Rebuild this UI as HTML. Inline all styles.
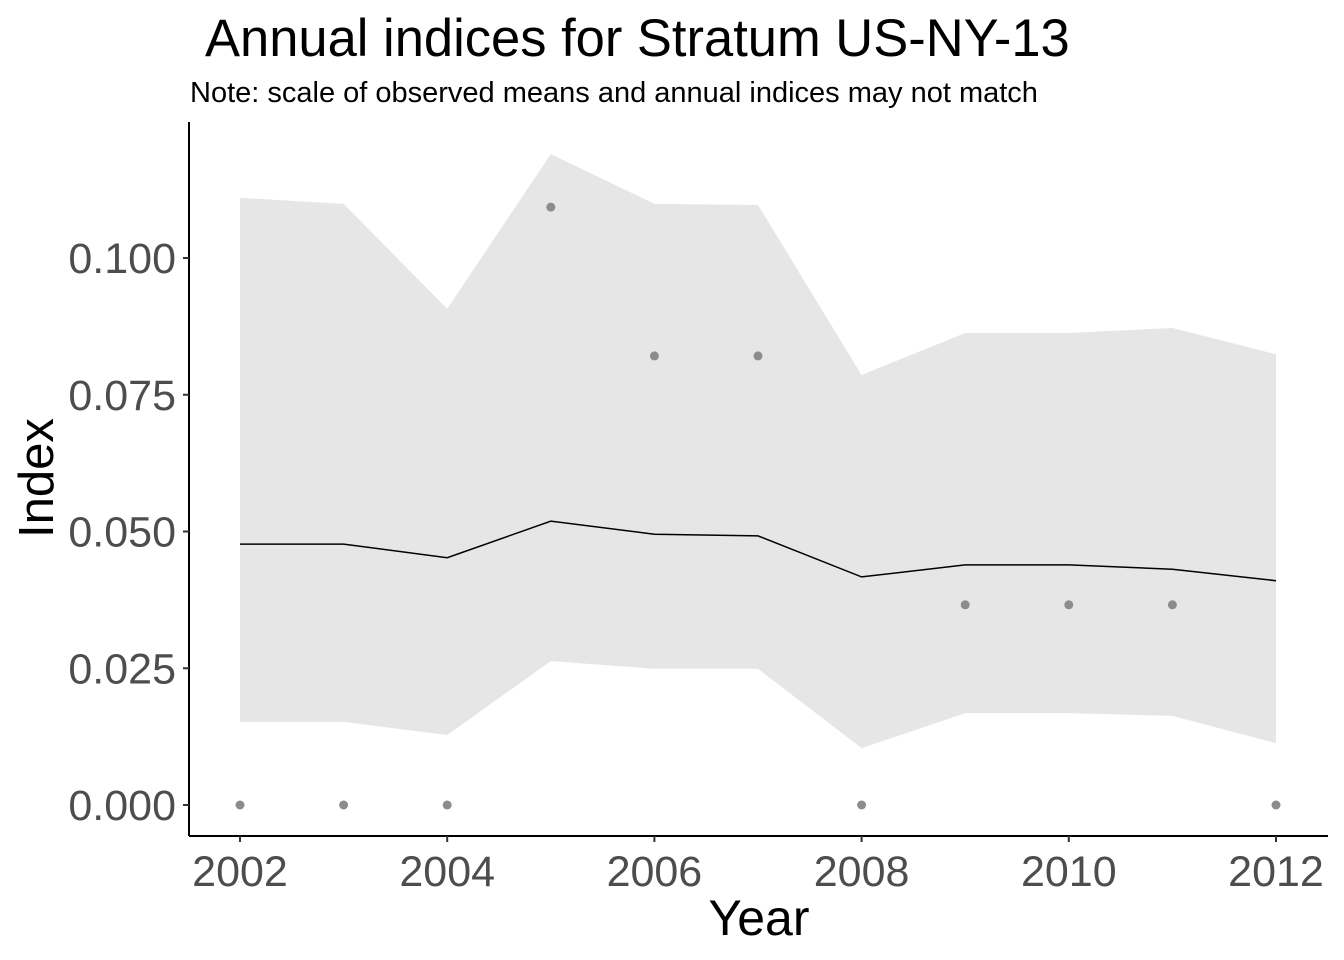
<!DOCTYPE html>
<html><head><meta charset="utf-8"><style>
html,body{margin:0;padding:0;background:#fff;}
svg{display:block;font-family:"Liberation Sans",Arial,sans-serif;}
</style></head><body>
<svg id="chart" width="1344" height="960" viewBox="0 0 1344 960">
<text x="205" y="56" font-size="52.5" fill="#000">Annual indices for Stratum US-NY-13</text>
<text x="190" y="102" font-size="29" fill="#000">Note: scale of observed means and annual indices may not match</text>
<g id="plot"></g>
<line x1="189" y1="122" x2="189" y2="836" stroke="#000" stroke-width="2"/>
<line x1="189" y1="836" x2="1328" y2="836" stroke="#000" stroke-width="2"/>
<g id="yticks"></g>
<g id="xticks"></g>
<text x="759" y="935" font-size="50" text-anchor="middle" fill="#000">Year</text>
<text transform="translate(53,478) rotate(-90)" font-size="49" text-anchor="middle" fill="#000">Index</text>
</svg>
<script>
const years = [2002,2003,2004,2005,2006,2007,2008,2009,2010,2011,2012];
const upper = [0.111,0.1099,0.0907,0.119,0.1099,0.1097,0.0786,0.0863,0.0863,0.0872,0.0824];
const lower = [0.0152,0.0152,0.0128,0.0263,0.0249,0.0249,0.0104,0.0168,0.0168,0.0163,0.0113];
const index = [0.0477,0.0477,0.0452,0.0519,0.0495,0.0492,0.0417,0.0439,0.0439,0.0431,0.0410];
const observed = [0,0,0,0.1093,0.0821,0.0821,0,0.0366,0.0366,0.0366,0];
const yTicks = [0,0.025,0.05,0.075,0.1];
const yTickLabels = ["0.000","0.025","0.050","0.075","0.100"];
const xTicks = [2002,2004,2006,2008,2010,2012];

const NS="http://www.w3.org/2000/svg";
const xs = v => 240 + (v-2002)*(1276-240)/10;
const ys = v => 805 - v*(805-258)/0.1;
function mk(tag, attrs, parent){const e=document.createElementNS(NS,tag);for(const k in attrs)e.setAttribute(k,attrs[k]);parent.appendChild(e);return e;}
const plot=document.getElementById('plot');
let d = years.map((y,i)=>(i?'L':'M')+xs(y)+','+ys(upper[i])).join('');
for(let i=years.length-1;i>=0;i--) d+='L'+xs(years[i])+','+ys(lower[i]);
const band=mk('path',{d:d+'Z',fill:'#e6e6e6'},plot);


const line=mk('path',{d:years.map((y,i)=>(i?'L':'M')+xs(y)+','+ys(index[i])).join(''),fill:'none',stroke:'#000','stroke-width':1.5},plot);


years.forEach((y,i)=>{
  const c=mk('circle',{cx:xs(y),cy:ys(observed[i]),r:4.5,fill:'#8c8c8c'},plot);
  
  
});
const yg=document.getElementById('yticks');
yTicks.forEach((v,i)=>{
  const t=mk('line',{x1:183,x2:189,y1:ys(v),y2:ys(v),stroke:'#333','stroke-width':2},yg);
  
  
  const l=mk('text',{x:176,y:ys(v)+15,'font-size':43,'text-anchor':'end',fill:'#4d4d4d'},yg);
  l.textContent=yTickLabels[i];
  
  
});
const xg=document.getElementById('xticks');
xTicks.forEach(v=>{
  const t=mk('line',{x1:xs(v),x2:xs(v),y1:836,y2:842,stroke:'#333','stroke-width':2},xg);
  
  
  const l=mk('text',{x:xs(v),y:886,'font-size':43,'text-anchor':'middle',fill:'#4d4d4d'},xg);
  l.textContent=v;
  
  
});
</script>
</body></html>
